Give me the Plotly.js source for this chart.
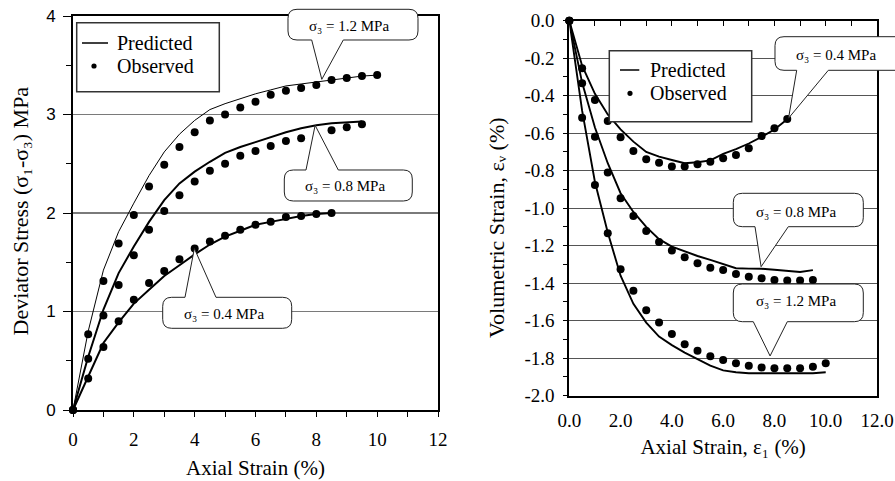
<!DOCTYPE html>
<html>
<head>
<meta charset="utf-8">
<script src="https://cdn.plot.ly/plotly-3.0.1.min.js"></script>
<style>
  html, body { margin: 0; padding: 0; background: #ffffff; }
  #chart { width: 895px; height: 481px; }
</style>
</head>
<body>
<div id="chart"></div>
<script>
// ---------------- DATA ----------------
// Left panel: deviator stress (MPa) vs axial strain (%)
const strainL12 = [0,0.5,1,1.5,2,2.5,3,3.5,4,4.5,5,5.5,6,6.5,7,7.5,8,8.5,9,9.5,10];
const obsL12    = [0,0.77,1.31,1.69,1.98,2.27,2.49,2.67,2.82,2.94,3.00,3.07,3.13,3.20,3.24,3.27,3.30,3.35,3.37,3.39,3.40];
const predL12   = [0,0.80,1.42,1.81,2.10,2.38,2.62,2.80,2.94,3.05,3.11,3.16,3.21,3.25,3.29,3.31,3.33,3.35,3.37,3.39,3.40];

const strainL08 = [0,0.5,1,1.5,2,2.5,3,3.5,4,4.5,5,5.5,6,6.5,7,7.5,8,8.5,9,9.5];
const obsL08    = [0,0.52,0.96,1.27,1.57,1.83,2.02,2.18,2.32,2.43,2.50,2.58,2.63,2.68,2.73,2.76,null,2.84,2.87,2.90];
const predL08   = [0,0.54,1.02,1.39,1.66,1.91,2.13,2.30,2.42,2.52,2.61,2.67,2.72,2.77,2.82,2.86,2.89,2.91,2.92,2.93];

const strainL04 = [0,0.5,1,1.5,2,2.5,3,3.5,4,4.5,5,5.5,6,6.5,7,7.5,8,8.5];
const obsL04    = [0,0.32,0.64,0.90,1.12,1.29,1.41,1.53,1.64,1.71,1.77,1.83,1.88,1.91,1.96,1.97,1.99,2.00];
const predL04   = [0,0.34,0.68,0.89,1.08,1.22,1.36,1.47,1.58,1.68,1.76,1.82,1.88,1.91,1.94,1.97,1.99,2.00];

// Right panel: volumetric strain (%) vs axial strain (%)
const strainR04 = [0,0.5,1,1.5,2,2.5,3,3.5,4,4.5,5,5.5,6,6.5,7,7.5,8,8.5];
const obsR04    = [0,-0.254,-0.423,-0.535,-0.622,-0.695,-0.739,-0.757,-0.778,-0.778,-0.765,-0.752,-0.734,-0.716,-0.680,-0.615,-0.574,-0.524];
const predR04   = [0,-0.24,-0.39,-0.50,-0.58,-0.645,-0.70,-0.725,-0.743,-0.76,-0.755,-0.745,-0.71,-0.685,-0.655,-0.62,-0.58,-0.525];

const strainR08 = [0,0.5,1,1.5,2,2.5,3,3.5,4,4.5,5,5.5,6,6.5,7,7.5,8,8.5,9,9.5];
const obsR08    = [0,-0.334,-0.619,-0.809,-0.947,-1.042,-1.122,-1.180,-1.226,-1.262,-1.294,-1.318,-1.330,-1.351,-1.365,-1.374,-1.383,-1.385,-1.385,-1.383];
const predR08   = [0,-0.33,-0.57,-0.76,-0.92,-1.02,-1.10,-1.165,-1.205,-1.232,-1.255,-1.276,-1.30,-1.32,-1.322,-1.323,-1.328,-1.332,-1.34,-1.33];

const strainR12 = [0,0.5,1,1.5,2,2.5,3,3.5,4,4.5,5,5.5,6,6.5,7,7.5,8,8.5,9,9.5,10];
const obsR12    = [0,-0.517,-0.876,-1.134,-1.326,-1.44,-1.544,-1.609,-1.671,-1.726,-1.76,-1.79,-1.81,-1.827,-1.84,-1.849,-1.854,-1.854,-1.854,-1.845,-1.827];
const predR12   = [0,-0.48,-0.86,-1.13,-1.36,-1.51,-1.61,-1.685,-1.73,-1.77,-1.805,-1.84,-1.865,-1.875,-1.88,-1.88,-1.88,-1.88,-1.88,-1.88,-1.875];

// Tick labels
const tickValsLX = [0,2,4,6,8,10,12];
const tickValsLY = [0,1,2,3,4];
const tickValsRX = [0,2,4,6,8,10,12];
const tickTextRX = ['0.0','2.0','4.0','6.0','8.0','10.0','12.0'];
const tickValsRY = [0,-0.2,-0.4,-0.6,-0.8,-1.0,-1.2,-1.4,-1.6,-1.8,-2.0];
const tickTextRY = ['0.0','-0.2','-0.4','-0.6','-0.8','-1.0','-1.2','-1.4','-1.6','-1.8','-2.0'];

const legendLabels = ['Predicted', 'Observed'];
const callLabels = ['σ₃ = 1.2 MPa','σ₃ = 0.8 MPa','σ₃ = 0.4 MPa'];

// ---------------- GEOMETRY ----------------
const ML = 73, MT = 16, PW = 804, PH = 394;
const fx = px => (px - ML) / PW;
const fy = py => (MT + PH - py) / PH;
const geomL = {x0:73, x1:438, yb:410, yt:16, xr:[0,12], yr:[0,4]};
const geomR = {x0:569.3, x1:877, yb:395.7, yt:20.7, xr:[0,12], yr:[-2,0]};
function d2p(g, x, y){
  return [g.x0 + (x-g.xr[0])/(g.xr[1]-g.xr[0])*(g.x1-g.x0),
          g.yb + (y-g.yr[0])/(g.yr[1]-g.yr[0])*(g.yt-g.yb)];
}
const SERIF = 'Liberation Serif, Times New Roman, serif';
const SANS = 'Liberation Sans, Arial, sans-serif';

// ---------------- TRACES ----------------
function line(x, y, w, xa, ya){
  return {x:x, y:y, mode:'lines', type:'scatter', xaxis:xa, yaxis:ya,
          line:{color:'#000', width:w}, showlegend:false, hoverinfo:'skip', cliponaxis:false};
}
function dots(x, y, xa, ya){
  return {x:x, y:y, mode:'markers', type:'scatter', xaxis:xa, yaxis:ya,
          marker:{color:'#000', size:8, line:{width:0}}, showlegend:false, hoverinfo:'skip', cliponaxis:false};
}
const traces = [
  line(strainL12, predL12, 1, 'x', 'y'),
  line(strainL08, predL08, 2, 'x', 'y'),
  line(strainL04, predL04, 2, 'x', 'y'),
  dots(strainL12, obsL12, 'x', 'y'),
  dots(strainL08, obsL08, 'x', 'y'),
  dots(strainL04, obsL04, 'x', 'y'),
  line(strainR04, predR04, 1.9, 'x2', 'y2'),
  line(strainR08, predR08, 1.9, 'x2', 'y2'),
  line(strainR12, predR12, 1.9, 'x2', 'y2'),
  dots(strainR04, obsR04, 'x2', 'y2'),
  dots(strainR08, obsR08, 'x2', 'y2'),
  dots(strainR12, obsR12, 'x2', 'y2'),
  {x:[], y:[], type:'scatter', mode:'lines', xaxis:'x3', yaxis:'y2', showlegend:false}
];

// ---------------- CALLOUTS ----------------
function f(v){ return v.toFixed(5); }
function P(x, y){ return f(fx(x)) + ',' + f(fy(y)); }
function bubblePath(b, tip, side){
  const r = 9, x0=b.x0, x1=b.x1, y0=b.y0, y1=b.y1;
  let s = 'M' + P(x0+r, y0);
  if (side === 'top') s += ' L' + P(b.a, y0) + ' L' + P(tip[0], tip[1]) + ' L' + P(b.b, y0);
  s += ' L' + P(x1-r, y0) + ' Q' + P(x1, y0) + ' ' + P(x1, y0+r);
  s += ' L' + P(x1, y1-r) + ' Q' + P(x1, y1) + ' ' + P(x1-r, y1);
  if (side === 'bottom') s += ' L' + P(b.b, y1) + ' L' + P(tip[0], tip[1]) + ' L' + P(b.a, y1);
  s += ' L' + P(x0+r, y1) + ' Q' + P(x0, y1) + ' ' + P(x0, y1-r);
  s += ' L' + P(x0, y0+r) + ' Q' + P(x0, y0) + ' ' + P(x0+r, y0) + ' Z';
  return s;
}
const callouts = [
  {g:geomL, tip:[8.18, 3.357], box:{x0:288, x1:418, y0:9.3, y1:40, a:311.7, b:343.3}, side:'bottom', label:callLabels[0], tx:349, ty:25.5},
  {g:geomL, tip:[7.96, 2.89], box:{x0:284.3, x1:412.3, y0:170, y1:201, a:306, b:338.3}, side:'top', label:callLabels[1], tx:345, ty:186},
  {g:geomL, tip:[3.99, 1.64], box:{x0:162.7, x1:291.7, y0:297.3, y1:328.3, a:185, b:216}, side:'top', label:callLabels[2], tx:224, ty:313.5},
  {g:geomR, tip:[8.55, -0.52], box:{x0:775, x1:905, y0:36.7, y1:70.3, a:796.7, b:828.3}, side:'bottom', label:callLabels[2], tx:836, ty:55},
  {g:geomR, tip:[7.48, -1.312], box:{x0:733.3, x1:863.3, y0:193.3, y1:226.7, a:755, b:788.3}, side:'bottom', label:callLabels[1], tx:796, ty:211.5},
  {g:geomR, tip:[7.83, -1.788], box:{x0:733.3, x1:863.3, y0:284, y1:321.7, a:753.3, b:787.3}, side:'bottom', label:callLabels[0], tx:796, ty:301}
];

const shapes = [];
const annotations = [];

// Legends (boxed legend drawn from shapes + text annotations)
const legends = [
  {box:[76.7, 219.3, 22.7, 91.7], line:[82, 108, 43], dot:[94, 66], tx:115},
  {box:[609.3, 751.7, 50.7, 121.7], line:[620, 639.3, 70], dot:[630, 93.3], tx:648.3}
];
legends.forEach(L => {
  shapes.push({type:'rect', xref:'paper', yref:'paper', layer:'above',
    x0:fx(L.box[0]), x1:fx(L.box[1]), y0:fy(L.box[3]), y1:fy(L.box[2]),
    fillcolor:'#fff', line:{color:'#333', width:1.5}});
  shapes.push({type:'line', xref:'paper', yref:'paper', layer:'above',
    x0:fx(L.line[0]), x1:fx(L.line[1]), y0:fy(L.line[2]), y1:fy(L.line[2]),
    line:{color:'#000', width:1.5}});
  const rr = 2.6;
  shapes.push({type:'circle', xref:'paper', yref:'paper', layer:'above',
    x0:fx(L.dot[0]-rr), x1:fx(L.dot[0]+rr), y0:fy(L.dot[1]+rr), y1:fy(L.dot[1]-rr),
    fillcolor:'#000', line:{color:'#000', width:0}});
  annotations.push({xref:'paper', yref:'paper', x:fx(L.tx), y:fy(L.line[2]), xanchor:'left', yanchor:'middle',
    text:legendLabels[0], showarrow:false, font:{family:SERIF, size:20, color:'#000'}});
  annotations.push({xref:'paper', yref:'paper', x:fx(L.tx), y:fy(L.dot[1]), xanchor:'left', yanchor:'middle',
    text:legendLabels[1], showarrow:false, font:{family:SERIF, size:20, color:'#000'}});
});

callouts.forEach(c => {
  const tip = d2p(c.g, c.tip[0], c.tip[1]);
  shapes.push({type:'path', xref:'paper', yref:'paper', layer:'above',
    path:bubblePath(c.box, tip, c.side), fillcolor:'#fff', line:{color:'#222', width:1}});
  annotations.push({xref:'paper', yref:'paper', x:fx(c.tx), y:fy(c.ty), xanchor:'center', yanchor:'middle',
    text:c.label, showarrow:false, font:{family:SERIF, size:15, color:'#000'}});
});

// y-axis titles
annotations.push({xref:'paper', yref:'paper', x:fx(20), y:fy(211.5), xanchor:'center', yanchor:'middle',
  textangle:-90, showarrow:false, text:'Deviator Stress (σ₁-σ₃) MPa',
  font:{family:SERIF, size:22, color:'#000'}});
annotations.push({xref:'paper', yref:'paper', x:fx(496), y:fy(228), xanchor:'center', yanchor:'middle',
  textangle:-90, showarrow:false, text:'Volumetric Strain, εᵥ (%)',
  font:{family:SERIF, size:22, color:'#000'}});

// ---------------- LAYOUT ----------------
const frame = {showline:true, linecolor:'#000', linewidth:2, mirror:true, zeroline:false};
const layout = {
  width:895, height:481,
  margin:{l:ML, r:895-ML-PW, t:MT, b:481-MT-PH, pad:0},
  paper_bgcolor:'#fff', plot_bgcolor:'#fff',
  showlegend:false,
  font:{family:SERIF, size:16, color:'#000'},
  xaxis: Object.assign({}, frame, {
    domain:[fx(geomL.x0), fx(geomL.x1)], anchor:'y', range:[0,12],
    tickmode:'array', tickvals:tickValsLX, ticks:'outside', ticklen:5, tickwidth:1, tickcolor:'#000',
    minor:{tickmode:'linear', tick0:0, dtick:1, ticks:'outside', ticklen:5, tickwidth:1, tickcolor:'#000', showgrid:false},
    showgrid:false, ticklabelstandoff:6,
    tickfont:{family:SERIF, size:19, color:'#000'},
    title:{text:'Axial Strain (%)', font:{family:SERIF, size:21, color:'#000'}, standoff:12}
  }),
  yaxis: Object.assign({}, frame, {
    domain:[fy(geomL.yb), fy(geomL.yt)], anchor:'x', range:[0,4],
    tickmode:'array', tickvals:tickValsLY, ticks:'outside', ticklen:8, tickwidth:1, tickcolor:'#000',
    minor:{tickmode:'linear', tick0:0, dtick:0.5, ticks:'outside', ticklen:5, tickwidth:1, tickcolor:'#000', showgrid:false},
    showgrid:true, gridcolor:'#7a7a7a', gridwidth:1.2, ticklabelstandoff:4,
    tickfont:{family:SANS, size:17, color:'#000'}
  }),
  xaxis2: Object.assign({}, frame, {
    domain:[fx(geomR.x0), fx(geomR.x1)], anchor:'y2', range:[0,12],
    tickmode:'array', tickvals:tickValsRX, ticktext:tickTextRX, ticks:'',
    showgrid:false, ticklabelstandoff:6,
    tickfont:{family:SERIF, size:19, color:'#000'},
    title:{text:'Axial Strain, ε₁ (%)', font:{family:SERIF, size:21, color:'#000'}, standoff:10}
  }),
  xaxis3: {
    overlaying:'x2', anchor:'y2', side:'top', range:[0,12],
    tickmode:'linear', tick0:0, dtick:1, ticks:'inside', ticklen:5, tickwidth:1, tickcolor:'#000',
    showticklabels:false, showgrid:false, showline:false, zeroline:false
  },
  yaxis2: Object.assign({}, frame, {
    domain:[fy(geomR.yb), fy(geomR.yt)], anchor:'x2', range:[-2,0],
    tickmode:'array', tickvals:tickValsRY, ticktext:tickTextRY, ticks:'outside', ticklen:4, tickwidth:1, tickcolor:'#000',
    minor:{tickmode:'linear', tick0:0, dtick:0.1, ticks:'outside', ticklen:4, tickwidth:1, tickcolor:'#000', showgrid:false},
    showgrid:true, gridcolor:'#555', gridwidth:1.3, ticklabelstandoff:5,
    tickfont:{family:SERIF, size:19, color:'#000'}
  }),
  shapes:shapes,
  annotations:annotations
};

Plotly.newPlot('chart', traces, layout, {displayModeBar:false, staticPlot:true});
</script>
</body>
</html>
